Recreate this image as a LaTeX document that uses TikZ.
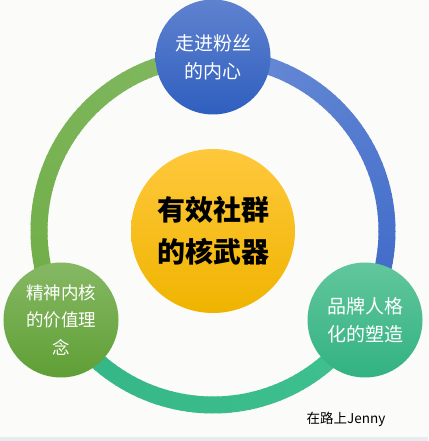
\documentclass[tikz,border=0pt]{standalone}
\usepackage{fontspec}
\newfontfamily\cjk{Noto Sans CJK SC}
\definecolor{bgc}{HTML}{FBFBF9}
\definecolor{stripc}{HTML}{E8EBEF}
\definecolor{rbA}{HTML}{6B8DD6}
\definecolor{rbB}{HTML}{3C68C8}
\definecolor{rtA}{HTML}{40C190}
\definecolor{rtB}{HTML}{34B585}
\definecolor{rgA}{HTML}{6FAD45}
\definecolor{rgB}{HTML}{82B862}
\definecolor{btop}{HTML}{5F82CF}
\definecolor{bbot}{HTML}{2F5FBF}
\definecolor{gtop}{HTML}{86B864}
\definecolor{gbot}{HTML}{5F9F35}
\definecolor{ttop}{HTML}{62C69C}
\definecolor{tbot}{HTML}{32B282}
\definecolor{ytop}{HTML}{FFC83C}
\definecolor{ybot}{HTML}{EFB400}
\begin{document}
\begin{tikzpicture}[x=1bp,y=1bp,
  ringseg/.style={line width=17bp},
  bubble/.style={circle,inner sep=0pt,minimum size=115bp,align=center,text=white},
  hub/.style={circle,inner sep=0pt,minimum size=164bp,align=center,text=black,
    font={\cjk\bfseries\fontsize{28bp}{42bp}\selectfont}}]
\useasboundingbox (0,0) rectangle (428,441);
\fill[bgc] (0,0) rectangle (428,441);
\fill[stripc] (0,0) rectangle (428,4);
% ring: blue arc
\foreach \i in {0,...,59}{
  \pgfmathsetmacro\a{90-2*\i}
  \pgfmathtruncatemacro\p{100-\i*100/59}
  \draw[ringseg,color=rbA!\p!rbB] (213,210) ++(\a:174) arc[start angle=\a,end angle=\a-2.4,radius=174];
}
% ring: teal arc
\foreach \i in {0,...,59}{
  \pgfmathsetmacro\a{-30-2*\i}
  \pgfmathtruncatemacro\p{100-\i*100/59}
  \draw[ringseg,color=rtA!\p!rtB] (213,210) ++(\a:174) arc[start angle=\a,end angle=\a-2.4,radius=174];
}
% ring: green arc
\foreach \i in {0,...,59}{
  \pgfmathsetmacro\a{210-2*\i}
  \pgfmathtruncatemacro\p{100-\i*100/59}
  \draw[ringseg,color=rgA!\p!rgB] (213,210) ++(\a:174) arc[start angle=\a,end angle=\a-2.4,radius=174];
}
\node[hub,top color=ytop,bottom color=ybot] (hubn) at (213,210) {有效社群\\的核武器};
\node[bubble,top color=btop,bottom color=bbot,
  font={\cjk\fontsize{19bp}{28bp}\selectfont}] (fans) at (213,384) {走进粉丝\\的内心};
\node[bubble,top color=gtop,bottom color=gbot,
  font={\cjk\fontsize{17.5bp}{27.5bp}\selectfont}] (spirit) at (61,121) {精神内核\\的价值理\\念};
\node[bubble,top color=ttop,bottom color=tbot,
  font={\cjk\fontsize{19bp}{28bp}\selectfont}] (brand) at (365,121) {品牌人格\\化的塑造};
\node[font={\cjk\fontsize{13.5bp}{16bp}\selectfont},text=black] (sig) at (346,22) {在路上Jenny};
\end{tikzpicture}
\end{document}
